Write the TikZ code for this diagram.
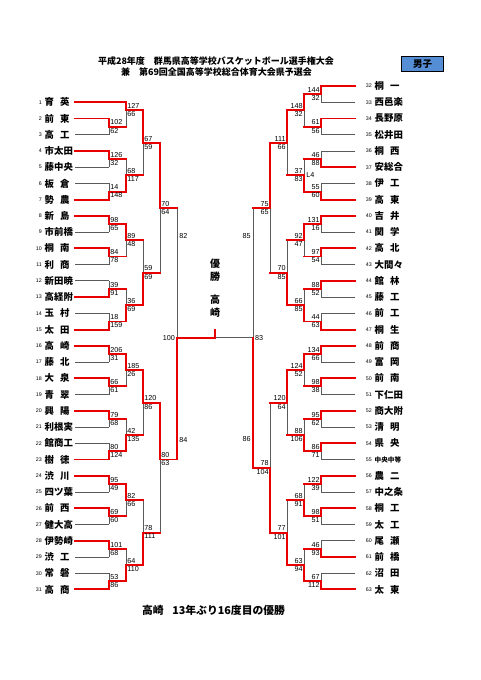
\documentclass[tikz,border=0pt]{standalone}
\usepackage{fontspec}
\setmainfont{Liberation Sans}
\newfontfamily\jpf{Noto Sans CJK JP}
\definecolor{bred}{RGB}{232,0,0}
\definecolor{lgray}{RGB}{90,90,90}
\definecolor{boxblue}{RGB}{85,142,213}
\pgfdeclarelayer{back}
\pgfdeclarelayer{bg}
\pgfsetlayers{back,bg,main}
\newcommand\tsp{\hspace{0.65em}}
% #1 x, #2 next x, #3 top m, #4 bottom m, #5 out m, #6 winner m, #7 top score, #8 bottom score
\newcommand\lmatch[8]{%
  \begin{pgfonlayer}{bg}\draw[grayln] (#1,{ym(#3)}) -- (#1,{ym(#4)});\end{pgfonlayer}
  \draw[redln] (#1,{ym(#6)}) -- (#1,{ym(#5)}) -- (#2,{ym(#5)});
  \node[score,anchor=south west] (l#1x#5a) at ({#1+0.6},{ym(#5)-0.9}) {#7};
  \node[score,anchor=north west] (l#1x#5b) at ({#1+0.6},{ym(#5)+0.6}) {#8};
}
\newcommand\rmatch[8]{%
  \begin{pgfonlayer}{bg}\draw[grayln] (#1,{ym(#3)}) -- (#1,{ym(#4)});\end{pgfonlayer}
  \draw[redln] (#1,{ym(#6)}) -- (#1,{ym(#5)}) -- (#2,{ym(#5)});
  \node[score,anchor=south east] (r#1x#5a) at ({#1-0.6},{ym(#5)-0.9}) {#7};
  \node[score,anchor=north east] (r#1x#5b) at ({#1-0.6},{ym(#5)+0.6}) {#8};
}
\begin{document}
\begin{tikzpicture}[x=1pt,y=-1pt,
  declare function={ym(\m)=86+8.12*\m;},
  redln/.style={draw=bred, line width=1.9pt, line cap=rect},
  grayln/.style={draw=lgray, line width=0.9pt},
  score/.style={font=\fontsize{7.2}{8}\selectfont, inner sep=0.6pt},
  tnum/.style={font=\fontsize{5.3}{6}\selectfont, anchor=east, inner sep=0pt},
  tname/.style={font=\jpf\bfseries\fontsize{9.4}{10}\selectfont, anchor=west, inner sep=0pt},
  title/.style={font=\jpf\bfseries\fontsize{9}{10}\selectfont, inner sep=0pt},
  champ/.style={font=\jpf\bfseries\fontsize{10}{13}\selectfont, align=center, inner sep=0pt}]
\useasboundingbox (0,0) rectangle (481,680);
\begin{pgfonlayer}{back}
\fill[white] (0,0) rectangle (481,680);
\end{pgfonlayer}

% titles
\node[title] (t1) at (216,60.7) {平成28年度\hspace{1em}群馬県高等学校バスケットボール選手権大会};
\node[title] (t2) at (216.5,71.7) {兼\hspace{1em}第69回全国高等学校総合体育大会県予選会};
\node[draw=black, line width=0.8pt, fill=boxblue, minimum width=41.6pt, minimum height=15pt, inner sep=0pt,
      font=\jpf\bfseries\fontsize{9.5}{10}\selectfont] (sex) at (422.5,64.2) {男子};

% left teams
\foreach \k/\t in {1/育\tsp 英, 2/前\tsp 東, 3/高\tsp 工, 4/市太田, 5/藤中央, 6/板\tsp 倉, 7/勢\tsp 農, 8/新\tsp 島, 9/市前橋, 10/桐\tsp 南, 11/利\tsp 商, 12/新田暁, 13/高経附, 14/玉\tsp 村, 15/太\tsp 田, 16/高\tsp 崎, 17/藤\tsp 北, 18/大\tsp 泉, 19/青\tsp 翠, 20/興\tsp 陽, 21/利根実, 22/館商工, 23/樹\tsp 徳, 24/渋\tsp 川, 25/四ツ葉, 26/前\tsp 西, 27/健大高, 28/伊勢崎, 29/渋\tsp 工, 30/常\tsp 磐, 31/高\tsp 商}{
  \node[tnum] (ln\k) at (42,{ym(2*\k)}) {\k};
  \node[tname] (lt\k) at (44.5,{ym(2*\k)}) {\t};
}
% right teams
\foreach \k/\t in {32/桐\tsp 一, 33/西邑楽, 34/長野原, 35/松井田, 36/桐\tsp 西, 37/安総合, 38/伊\tsp 工, 39/高\tsp 東, 40/吉\tsp 井, 41/関\tsp 学, 42/高\tsp 北, 43/大間々, 44/館\tsp 林, 45/藤\tsp 工, 46/前\tsp 工, 47/桐\tsp 生, 48/前\tsp 商, 49/富\tsp 岡, 50/前\tsp 南, 51/下仁田, 52/商大附, 53/清\tsp 明, 54/県\tsp 央, 55/{\fontsize{6.6}{7}\selectfont 中央中等}, 56/農\tsp 二, 57/中之条, 58/桐\tsp 工, 59/太\tsp 工, 60/尾\tsp 瀬, 61/前\tsp 橋, 62/沼\tsp 田, 63/太\tsp 東}{
  \node[tnum] (rn\k) at (372,{ym(2*(\k-32))}) {\k};
  \node[tname] (rt\k) at (374.5,{ym(2*(\k-32))}) {\t};
}

% team lines
\begin{pgfonlayer}{bg}
\foreach \k in {3,5,6,9,11,12,14,17,19,21,22,25,27,29,30}
  \draw[grayln] (75,{ym(2*\k)}) -- (109,{ym(2*\k)});
\foreach \k in {33,35,36,38,41,43,45,46,49,51,53,55,57,59,60,62}
  \draw[grayln] (355,{ym(2*(\k-32))}) -- (321,{ym(2*(\k-32))});
\end{pgfonlayer}
\draw[redln] (75,{ym(2)}) -- (126,{ym(2)});
\foreach \k in {2,4,7,8,10,13,15,16,18,20,23,24,26,28,31}
  \draw[redln] (75,{ym(2*\k)}) -- (109,{ym(2*\k)});
\foreach \k in {32,34,37,39,40,42,44,47,48,50,52,54,56,58,61,63}
  \draw[redln] (355,{ym(2*(\k-32))}) -- (321,{ym(2*(\k-32))});

% left round 1
\lmatch{109}{126}{4}{6}{5}{4}{102}{62}
\lmatch{109}{126}{8}{10}{9}{8}{126}{32}
\lmatch{109}{126}{12}{14}{13}{14}{14}{148}
\lmatch{109}{126}{16}{18}{17}{16}{98}{65}
\lmatch{109}{126}{20}{22}{21}{20}{84}{78}
\lmatch{109}{126}{24}{26}{25}{26}{39}{91}
\lmatch{109}{126}{28}{30}{29}{30}{18}{159}
\lmatch{109}{126}{32}{34}{33}{32}{206}{31}
\lmatch{109}{126}{36}{38}{37}{36}{66}{61}
\lmatch{109}{126}{40}{42}{41}{40}{79}{68}
\lmatch{109}{126}{44}{46}{45}{46}{80}{124}
\lmatch{109}{126}{48}{50}{49}{48}{95}{49}
\lmatch{109}{126}{52}{54}{53}{52}{69}{60}
\lmatch{109}{126}{56}{58}{57}{56}{101}{68}
\lmatch{109}{126}{60}{62}{61}{62}{53}{86}
% left round 2
\lmatch{126}{143}{2}{5}{3}{2}{127}{66}
\lmatch{126}{143}{9}{13}{11}{13}{68}{117}
\lmatch{126}{143}{17}{21}{19}{17}{89}{48}
\lmatch{126}{143}{25}{29}{27}{29}{36}{69}
\lmatch{126}{143}{33}{37}{35}{33}{185}{26}
\lmatch{126}{143}{41}{45}{43}{45}{42}{135}
\lmatch{126}{143}{49}{53}{51}{49}{82}{66}
\lmatch{126}{143}{57}{61}{59}{61}{64}{110}
% left round 3
\lmatch{143}{160}{3}{11}{7}{3}{67}{59}
\lmatch{143}{160}{19}{27}{23}{27}{59}{69}
\lmatch{143}{160}{35}{43}{39}{35}{120}{86}
\lmatch{143}{160}{51}{59}{55}{59}{78}{111}
% left round 4
\lmatch{160}{177}{7}{23}{15}{7}{70}{64}
\lmatch{160}{177}{39}{55}{46}{39}{80}{63}

% right round 1
\rmatch{321}{304}{0}{2}{1}{0}{144}{32}
\rmatch{321}{304}{4}{6}{5}{4}{61}{56}
\rmatch{321}{304}{8}{10}{9}{10}{46}{88}
\rmatch{321}{304}{12}{14}{13}{14}{55}{60}
\rmatch{321}{304}{16}{18}{17}{16}{131}{16}
\rmatch{321}{304}{20}{22}{21}{20}{97}{54}
\rmatch{321}{304}{24}{26}{25}{24}{88}{52}
\rmatch{321}{304}{28}{30}{29}{30}{44}{63}
\rmatch{321}{304}{32}{34}{33}{32}{134}{66}
\rmatch{321}{304}{36}{38}{37}{36}{98}{38}
\rmatch{321}{304}{40}{42}{41}{40}{95}{62}
\rmatch{321}{304}{44}{46}{45}{44}{86}{71}
\rmatch{321}{304}{48}{50}{49}{48}{122}{39}
\rmatch{321}{304}{52}{54}{53}{52}{98}{51}
\rmatch{321}{304}{56}{58}{57}{58}{46}{93}
\rmatch{321}{304}{60}{62}{61}{62}{67}{112}
% right round 2
\rmatch{304}{287}{1}{5}{3}{1}{148}{32}
\rmatch{304}{287}{9}{13}{11}{13}{37}{83}
\rmatch{304}{287}{17}{21}{19}{17}{92}{47}
\rmatch{304}{287}{25}{29}{27}{29}{66}{85}
\rmatch{304}{287}{33}{37}{35}{33}{124}{52}
\rmatch{304}{287}{41}{45}{43}{45}{88}{106}
\rmatch{304}{287}{49}{53}{51}{53}{68}{91}
\rmatch{304}{287}{57}{61}{59}{61}{63}{94}
% right round 3
\rmatch{287}{270}{3}{11}{7}{3}{111}{66}
\rmatch{287}{270}{19}{27}{23}{27}{70}{85}
\rmatch{287}{270}{35}{43}{39}{35}{120}{64}
\rmatch{287}{270}{51}{59}{55}{59}{77}{101}
% right round 4
\rmatch{270}{253}{7}{23}{15}{7}{75}{65}
\rmatch{270}{253}{39}{55}{47}{55}{78}{104}

\node[score,anchor=west] (l4) at (305.5,{ym(11)}) {L4};

% semifinals and final
\begin{pgfonlayer}{bg}
\draw[grayln] (177,{ym(15)}) -- (177,{ym(46)});
\draw[grayln] (253,{ym(15)}) -- (253,{ym(47)});
\draw[grayln] (215,{ym(31)}) -- (253,{ym(31)});
\end{pgfonlayer}
\draw[redln] (177,{ym(46)}) -- (177,{ym(31)}) -- (215,{ym(31)});
\draw[redln] (253,{ym(47)}) -- (253,{ym(31)});
\draw[redln] (215,329.5) -- (215,{ym(31)});
\node[score,anchor=west] (s82) at (178.5,236) {82};
\node[score,anchor=west] (s84) at (178.5,440) {84};
\node[score,anchor=east] (s85) at (251.5,236) {85};
\node[score,anchor=east] (s86) at (251.5,439) {86};
\node[score,anchor=east] (s100) at (175.8,{ym(31)}) {100};
\node[score,anchor=west] (s83) at (254.3,{ym(31)}) {83};

\node[champ] (yusho) at (215,270.5) {優\\勝};
\node[champ] (champ) at (215,306) {高\\崎};

\node[font=\jpf\bfseries\fontsize{10.8}{12}\selectfont, inner sep=0pt] (result) at (213.5,610) {高崎\hspace{0.8em}13年ぶり16度目の優勝};
\end{tikzpicture}
\end{document}
